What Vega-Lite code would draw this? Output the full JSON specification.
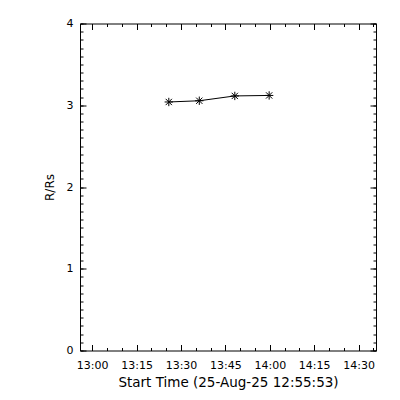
{
  "$schema": "https://vega.github.io/schema/vega-lite/v6.json",
  "width": 296,
  "height": 327,
  "autosize": {"type": "none"},
  "padding": {"left": 80, "top": 23.5, "right": 24, "bottom": 49.5},
  "background": "white",
  "config": {
    "view": {"stroke": "black", "strokeWidth": 1},
    "axis": {
      "grid": false,
      "domain": false,
      "labelColor": "black",
      "titleColor": "black",
      "tickColor": "black",
      "labelFont": "DejaVu Sans",
      "titleFont": "DejaVu Sans",
      "titleFontWeight": "normal",
      "labelFontSize": 11,
      "titleFontSize": 12
    }
  },
  "data": {
    "values": [
      {"t": "2025-08-25T13:25:53", "r": 3.04},
      {"t": "2025-08-25T13:36:11", "r": 3.055},
      {"t": "2025-08-25T13:48:11", "r": 3.114},
      {"t": "2025-08-25T13:59:47", "r": 3.12}
    ]
  },
  "layer": [
    {
      "mark": {"type": "line", "color": "black", "strokeWidth": 1},
      "encoding": {
        "x": {
          "field": "t", "type": "temporal",
          "scale": {"domain": [{"year": 2025, "month": 8, "date": 25, "hours": 12, "minutes": 55, "seconds": 53}, {"year": 2025, "month": 8, "date": 25, "hours": 14, "minutes": 35, "seconds": 53}], "nice": false},
          "axis": {
            "orient": "bottom", "ticks": false, "labelPadding": 9, "format": "%H:%M",
            "title": "Start Time (25-Aug-25 12:55:53)", "titlePadding": 5, "titleFontSize": 13.5,
            "values": [
              {"year": 2025, "month": 8, "date": 25, "hours": 13, "minutes": 0},
              {"year": 2025, "month": 8, "date": 25, "hours": 13, "minutes": 15},
              {"year": 2025, "month": 8, "date": 25, "hours": 13, "minutes": 30},
              {"year": 2025, "month": 8, "date": 25, "hours": 13, "minutes": 45},
              {"year": 2025, "month": 8, "date": 25, "hours": 14, "minutes": 0},
              {"year": 2025, "month": 8, "date": 25, "hours": 14, "minutes": 15},
              {"year": 2025, "month": 8, "date": 25, "hours": 14, "minutes": 30}
            ]
          }
        },
        "y": {
          "field": "r", "type": "quantitative",
          "scale": {"domain": [0, 4], "nice": false},
          "axis": {"orient": "left", "ticks": false, "labelPadding": 7, "values": [0, 1, 2, 3, 4], "format": "d", "title": "R/Rs", "titlePadding": 10}
        }
      }
    },
    {
      "mark": {"type": "point", "shape": "M-1,0L1,0M0,-1L0,1M-0.75,-0.75L0.75,0.75M-0.75,0.75L0.75,-0.75", "filled": false, "stroke": "black", "strokeWidth": 1, "size": 70, "opacity": 1},
      "encoding": {
        "x": {
          "field": "t", "type": "temporal",
          "axis": {
            "orient": "bottom", "labels": false, "title": null, "tickSize": -6,
            "values": [
              {"year": 2025, "month": 8, "date": 25, "hours": 13, "minutes": 0},
              {"year": 2025, "month": 8, "date": 25, "hours": 13, "minutes": 15},
              {"year": 2025, "month": 8, "date": 25, "hours": 13, "minutes": 30},
              {"year": 2025, "month": 8, "date": 25, "hours": 13, "minutes": 45},
              {"year": 2025, "month": 8, "date": 25, "hours": 14, "minutes": 0},
              {"year": 2025, "month": 8, "date": 25, "hours": 14, "minutes": 15},
              {"year": 2025, "month": 8, "date": 25, "hours": 14, "minutes": 30}
            ]
          }
        },
        "y": {
          "field": "r", "type": "quantitative",
          "axis": {"orient": "left", "labels": false, "title": null, "tickSize": -6, "values": [0, 1, 2, 3, 4]}
        }
      }
    },
    {
      "mark": {"type": "point", "opacity": 0},
      "encoding": {
        "x": {
          "field": "t", "type": "temporal",
          "axis": {
            "orient": "bottom", "labels": false, "title": null, "tickSize": -3,
            "values": [
              {"year": 2025, "month": 8, "date": 25, "hours": 13, "minutes": 0},
              {"year": 2025, "month": 8, "date": 25, "hours": 13, "minutes": 5},
              {"year": 2025, "month": 8, "date": 25, "hours": 13, "minutes": 10},
              {"year": 2025, "month": 8, "date": 25, "hours": 13, "minutes": 15},
              {"year": 2025, "month": 8, "date": 25, "hours": 13, "minutes": 20},
              {"year": 2025, "month": 8, "date": 25, "hours": 13, "minutes": 25},
              {"year": 2025, "month": 8, "date": 25, "hours": 13, "minutes": 30},
              {"year": 2025, "month": 8, "date": 25, "hours": 13, "minutes": 35},
              {"year": 2025, "month": 8, "date": 25, "hours": 13, "minutes": 40},
              {"year": 2025, "month": 8, "date": 25, "hours": 13, "minutes": 45},
              {"year": 2025, "month": 8, "date": 25, "hours": 13, "minutes": 50},
              {"year": 2025, "month": 8, "date": 25, "hours": 13, "minutes": 55},
              {"year": 2025, "month": 8, "date": 25, "hours": 14, "minutes": 0},
              {"year": 2025, "month": 8, "date": 25, "hours": 14, "minutes": 5},
              {"year": 2025, "month": 8, "date": 25, "hours": 14, "minutes": 10},
              {"year": 2025, "month": 8, "date": 25, "hours": 14, "minutes": 15},
              {"year": 2025, "month": 8, "date": 25, "hours": 14, "minutes": 20},
              {"year": 2025, "month": 8, "date": 25, "hours": 14, "minutes": 25},
              {"year": 2025, "month": 8, "date": 25, "hours": 14, "minutes": 30},
              {"year": 2025, "month": 8, "date": 25, "hours": 14, "minutes": 35}
            ]
          }
        },
        "y": {
          "field": "r", "type": "quantitative",
          "axis": {"orient": "left", "labels": false, "title": null, "tickSize": -3,
            "values": [0, 0.1, 0.2, 0.3, 0.4, 0.5, 0.6, 0.7, 0.8, 0.9, 1, 1.1, 1.2, 1.3, 1.4, 1.5, 1.6, 1.7, 1.8, 1.9, 2, 2.1, 2.2, 2.3, 2.4, 2.5, 2.6, 2.7, 2.8, 2.9, 3, 3.1, 3.2, 3.3, 3.4, 3.5, 3.6, 3.7, 3.8, 3.9, 4]}
        }
      }
    },
    {
      "mark": {"type": "point", "opacity": 0},
      "encoding": {
        "x": {
          "field": "t", "type": "temporal",
          "axis": {
            "orient": "top", "labels": false, "title": null, "tickSize": -6,
            "values": [
              {"year": 2025, "month": 8, "date": 25, "hours": 13, "minutes": 0},
              {"year": 2025, "month": 8, "date": 25, "hours": 13, "minutes": 15},
              {"year": 2025, "month": 8, "date": 25, "hours": 13, "minutes": 30},
              {"year": 2025, "month": 8, "date": 25, "hours": 13, "minutes": 45},
              {"year": 2025, "month": 8, "date": 25, "hours": 14, "minutes": 0},
              {"year": 2025, "month": 8, "date": 25, "hours": 14, "minutes": 15},
              {"year": 2025, "month": 8, "date": 25, "hours": 14, "minutes": 30}
            ]
          }
        },
        "y": {
          "field": "r", "type": "quantitative",
          "axis": {"orient": "right", "labels": false, "title": null, "tickSize": -6, "values": [0, 1, 2, 3, 4]}
        }
      }
    },
    {
      "mark": {"type": "point", "opacity": 0},
      "encoding": {
        "x": {
          "field": "t", "type": "temporal",
          "axis": {
            "orient": "top", "labels": false, "title": null, "tickSize": -3,
            "values": [
              {"year": 2025, "month": 8, "date": 25, "hours": 13, "minutes": 0},
              {"year": 2025, "month": 8, "date": 25, "hours": 13, "minutes": 5},
              {"year": 2025, "month": 8, "date": 25, "hours": 13, "minutes": 10},
              {"year": 2025, "month": 8, "date": 25, "hours": 13, "minutes": 15},
              {"year": 2025, "month": 8, "date": 25, "hours": 13, "minutes": 20},
              {"year": 2025, "month": 8, "date": 25, "hours": 13, "minutes": 25},
              {"year": 2025, "month": 8, "date": 25, "hours": 13, "minutes": 30},
              {"year": 2025, "month": 8, "date": 25, "hours": 13, "minutes": 35},
              {"year": 2025, "month": 8, "date": 25, "hours": 13, "minutes": 40},
              {"year": 2025, "month": 8, "date": 25, "hours": 13, "minutes": 45},
              {"year": 2025, "month": 8, "date": 25, "hours": 13, "minutes": 50},
              {"year": 2025, "month": 8, "date": 25, "hours": 13, "minutes": 55},
              {"year": 2025, "month": 8, "date": 25, "hours": 14, "minutes": 0},
              {"year": 2025, "month": 8, "date": 25, "hours": 14, "minutes": 5},
              {"year": 2025, "month": 8, "date": 25, "hours": 14, "minutes": 10},
              {"year": 2025, "month": 8, "date": 25, "hours": 14, "minutes": 15},
              {"year": 2025, "month": 8, "date": 25, "hours": 14, "minutes": 20},
              {"year": 2025, "month": 8, "date": 25, "hours": 14, "minutes": 25},
              {"year": 2025, "month": 8, "date": 25, "hours": 14, "minutes": 30},
              {"year": 2025, "month": 8, "date": 25, "hours": 14, "minutes": 35}
            ]
          }
        },
        "y": {
          "field": "r", "type": "quantitative",
          "axis": {"orient": "right", "labels": false, "title": null, "tickSize": -3,
            "values": [0, 0.1, 0.2, 0.3, 0.4, 0.5, 0.6, 0.7, 0.8, 0.9, 1, 1.1, 1.2, 1.3, 1.4, 1.5, 1.6, 1.7, 1.8, 1.9, 2, 2.1, 2.2, 2.3, 2.4, 2.5, 2.6, 2.7, 2.8, 2.9, 3, 3.1, 3.2, 3.3, 3.4, 3.5, 3.6, 3.7, 3.8, 3.9, 4]}
        }
      }
    }
  ],
  "resolve": {"axis": {"x": "independent", "y": "independent"}}
}
